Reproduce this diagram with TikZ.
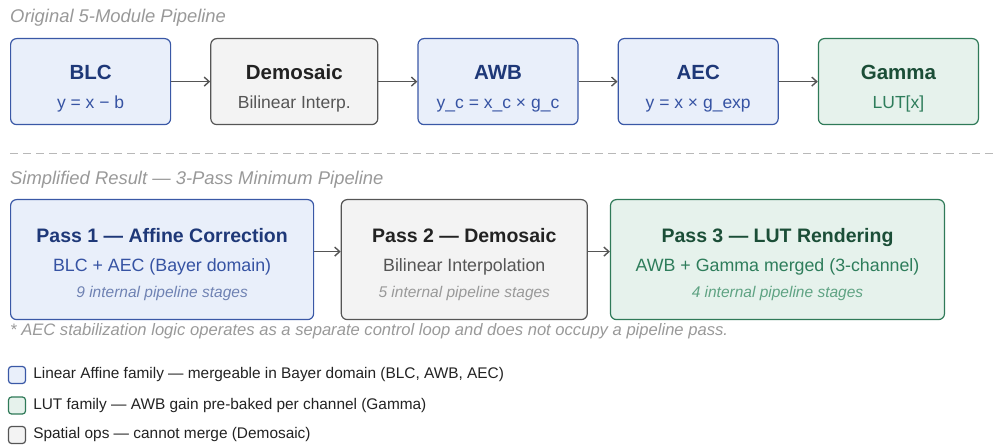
\documentclass[tikz,border=0pt]{standalone}
\usepackage{fontspec}
\setmainfont{Liberation Sans}
\usepackage{xcolor}
\usetikzlibrary{arrows.meta, positioning}

\definecolor{bluD}{HTML}{3A58A6}
\definecolor{bluF}{HTML}{E9EFFA}
\definecolor{bluT}{HTML}{1E3878}
\definecolor{bluS}{HTML}{3653A3}
\definecolor{bluI}{HTML}{6F82B3}
\definecolor{gryD}{HTML}{555555}
\definecolor{gryF}{HTML}{F3F3F3}
\definecolor{gryT}{HTML}{222222}
\definecolor{gryS}{HTML}{555555}
\definecolor{gryI}{HTML}{999999}
\definecolor{grnD}{HTML}{2F7A58}
\definecolor{grnF}{HTML}{E6F2EC}
\definecolor{grnT}{HTML}{1B4E37}
\definecolor{grnS}{HTML}{2E7D5B}
\definecolor{grnI}{HTML}{5FA383}

\newcommand{\toptitle}[1]{\rule{0pt}{29pt}{\fontsize{20.5}{29}\selectfont\bfseries #1}}
\newcommand{\passtitle}[1]{\rule{0pt}{26pt}{\fontsize{19.5}{26}\selectfont\bfseries #1}}
\newcommand{\stagenote}[1]{{\fontsize{15.5}{26}\selectfont\itshape #1}\rule[-5pt]{0pt}{5pt}}
\newcommand{\lowline}[1]{#1\rule[-5pt]{0pt}{5pt}}

\begin{document}
\begin{tikzpicture}[
  x=1pt, y=-1pt,
  fam/.style={rounded corners=6pt, line width=1.2pt, align=center},
  blubox/.style={fam, draw=bluD, fill=bluF, text=bluS},
  grybox/.style={fam, draw=gryD, fill=gryF, text=gryS},
  grnbox/.style={fam, draw=grnD, fill=grnF, text=grnS},
  topbox/.style={minimum width=160pt, minimum height=86pt,
                 font=\fontsize{17.5}{29}\selectfont},
  passbox/.style={minimum height=120pt, font=\fontsize{17.8}{26}\selectfont},
  sect/.style={inner sep=0pt, anchor=base west, text=gryI,
               font=\fontsize{18.4}{21}\selectfont\itshape},
  legsq/.style={minimum size=17pt, inner sep=0pt, rounded corners=3pt, line width=1.2pt},
  legtxt/.style={inner sep=0pt, text=gryT, font=\fontsize{15.4}{18}\selectfont},
  arrow/.style={-{Straight Barb[length=5pt, width=9pt]}, line width=1.4pt, draw=gryD}
]
\useasboundingbox (0,0) rectangle (994,446);

\node[sect] (orig) at (10,23) {Original 5-Module Pipeline};

\node[blubox, topbox, anchor=north west] (blc) at (10,38)
  {{\color{bluT}\toptitle{BLC}}\\\lowline{y = x − b}};
\node[grybox, topbox, minimum width=167pt, right=39pt of blc] (demo)
  {{\color{gryT}\toptitle{Demosaic}}\\\lowline{Bilinear Interp.}};
\node[blubox, topbox, right=39pt of demo] (awb)
  {{\color{bluT}\toptitle{AWB}}\\\lowline{y\_c = x\_c × g\_c}};
\node[blubox, topbox, right=39pt of awb] (aec)
  {{\color{bluT}\toptitle{AEC}}\\\lowline{y = x × g\_exp}};
\node[grnbox, topbox, right=39pt of aec] (gam)
  {{\color{grnT}\toptitle{Gamma}}\\\lowline{LUT[x]}};

\draw[arrow] (blc)  -- (demo);
\draw[arrow] (demo) -- (awb);
\draw[arrow] (awb)  -- (aec);
\draw[arrow] (aec)  -- (gam);

\coordinate (sepL) at (10,154);
\coordinate (sepR) at (994,154);
\draw[gryI!70, line width=1pt, dash pattern=on 8pt off 5pt] (sepL) -- (sepR);

\node[sect] (simp) at (10,185) {Simplified Result — 3-Pass Minimum Pipeline};

\node[blubox, passbox, minimum width=303pt, anchor=north west] (p1) at (10,199)
  {{\color{bluT}\passtitle{Pass 1 — Affine Correction}}\\[3pt]
   BLC + AEC (Bayer domain)\\{\color{bluI}\stagenote{9 internal pipeline stages}}};
\node[grybox, passbox, minimum width=246pt, right=26.5pt of p1] (p2)
  {{\color{gryT}\passtitle{Pass 2 — Demosaic}}\\[3pt]
   Bilinear Interpolation\\{\color{gryI}\stagenote{5 internal pipeline stages}}};
\node[grnbox, passbox, minimum width=334pt, right=22pt of p2] (p3)
  {{\color{grnT}\passtitle{Pass 3 — LUT Rendering}}\\[3pt]
   AWB + Gamma merged (3-channel)\\{\color{grnI}\stagenote{4 internal pipeline stages}}};

\draw[arrow] ([yshift=8pt]p1.east) -- ([yshift=8pt]p2.west);
\draw[arrow] ([yshift=8pt]p2.east) -- ([yshift=8pt]p3.west);

\node[sect, font=\fontsize{16.6}{19}\selectfont\itshape] (note) at (10,336)
  {* AEC stabilization logic operates as a separate control loop and does not occupy a pipeline pass.};

\node[legsq, draw=bluD, fill=bluF] (lg1) at (17,375) {};
\node[legsq, draw=grnD, fill=grnF] (lg2) at (17,405.5) {};
\node[legsq, draw=gryD, fill=gryF] (lg3) at (17,435) {};
\node[legtxt, right=7pt of lg1] (lt1) {Linear Affine family — mergeable in Bayer domain (BLC, AWB, AEC)};
\node[legtxt, right=7pt of lg2] (lt2) {LUT family — AWB gain pre-baked per channel (Gamma)};
\node[legtxt, right=7pt of lg3] (lt3) {Spatial ops — cannot merge (Demosaic)};
\end{tikzpicture}
\end{document}
